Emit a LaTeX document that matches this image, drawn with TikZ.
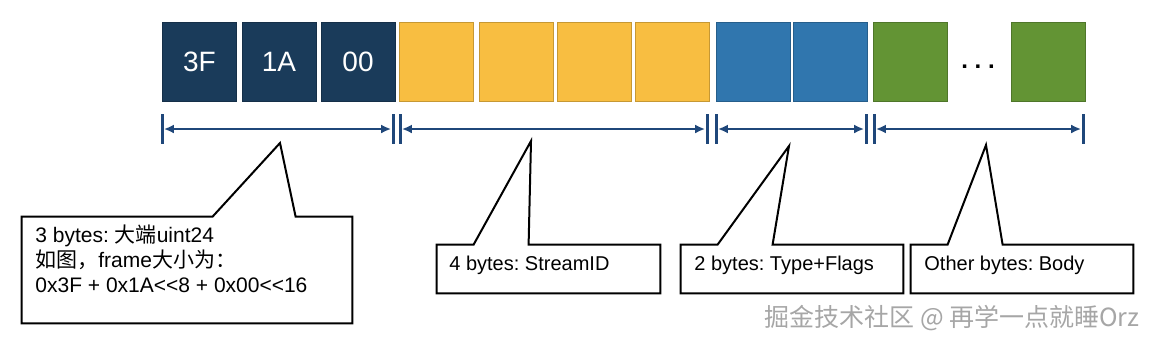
\documentclass[tikz,border=0pt]{standalone}
\usepackage{fontspec}
\setmainfont{Liberation Sans}
\newfontfamily\cjk{Noto Sans CJK SC}
\usepackage{tikz}
\usetikzlibrary{arrows.meta}
\frenchspacing

\definecolor{navybyte}{RGB}{26,59,90}
\definecolor{yellowbyte}{RGB}{248,190,65}
\definecolor{bluebyte}{RGB}{48,118,174}
\definecolor{greenbyte}{RGB}{99,148,52}
\definecolor{dimline}{RGB}{31,71,122}

\begin{document}
\begin{tikzpicture}[x=0.5pt, y=-0.5pt, >={Latex[length=5pt,width=4.5pt]},
    byte/.style={draw=#1!80!black, fill=#1, minimum width=37pt, minimum height=39.5pt,
        inner sep=0pt, line width=0.5pt, text=white, font=\fontsize{14}{14}\selectfont},
    tick/.style={fill=dimline, minimum width=1.5pt, minimum height=15pt, inner sep=0pt},
    callframe/.style={minimum height=24pt, minimum width=111.5pt, inner sep=0pt},
    callline/.style={line width=1pt, black, line join=miter},
    calltext/.style={anchor=base west, inner sep=0pt, font=\fontsize{10}{12.5}\selectfont}]
        \useasboundingbox (0,0) rectangle (1154,344);
        % the bytes of the frame
        \foreach \x/\c/\lab [count=\n] in {199.5/navybyte/3F, 279/navybyte/1A, 358/navybyte/00,
                436.5/yellowbyte/, 516/yellowbyte/, 594.5/yellowbyte/, 672.5/yellowbyte/,
                753/bluebyte/, 830.5/bluebyte/, 910.5/greenbyte/, 1048.5/greenbyte/}
            \node[byte=\c] (b\n) at (\x,61.5) {\lab};
        \node[anchor=base, font=\fontsize{12}{12}\bfseries\selectfont] (dots) at (978,68) {. . .};
        % the ranges below them
        \foreach \x [count=\n] in {162,393,400,707,716,866,874,1083}
            \node[tick] (t\n) at (\x,129) {};
        \foreach \a/\b in {1/2,3/4,5/6,7/8}
            \draw[<->, dimline, line width=1pt] (t\a) -- (t\b);
        % callouts: frame, tip, text
        \node[callframe, minimum width=165pt, minimum height=53pt] (c1) at (187,270) {};
        \node[callframe] (c2) at (548.5,269) {};
        \node[callframe, minimum width=111pt] (c3) at (792,269) {};
        \node[callframe, minimum width=111pt] (c4) at (1022,269) {};
        \coordinate (p1) at (280,143);
        \coordinate (p2) at (531,141);
        \coordinate (p3) at (789,146);
        \coordinate (p4) at (986,145);
        \foreach \n/\l/\r in {1/95.5pt/137pt, 2/18.5pt/46pt, 3/18.5pt/46pt, 4/18.5pt/46pt}
            \draw[callline] (c\n.north west) -- ([xshift=\l]c\n.north west) -- (p\n)
                -- ([xshift=\r]c\n.north west) -- (c\n.north east) |- (c\n.south west) -- cycle;
        \node[calltext, font=\fontsize{10.5}{12.5}\selectfont, align=left] (l1) at (35,292)
            {3 bytes: {\cjk 大端}uint24\\{\cjk 如图，}frame{\cjk 大小为：}\\0x3F + 0x1A<{}<8 + 0x00<{}<16};
        \node[calltext] (l2) at (449,270) {4 bytes: StreamID};
        \node[calltext] (l3) at (694,270) {2 bytes: Type+Flags};
        \node[calltext] (l4) at (924,270) {Other bytes: Body};
        % watermark
        \node[text=gray!70, font=\fontsize{12.5}{12.5}\selectfont] (wm) at (952,318)
            {\cjk 掘金技术社区 @ 再学一点就睡Orz};
    \end{tikzpicture}
\end{document}
